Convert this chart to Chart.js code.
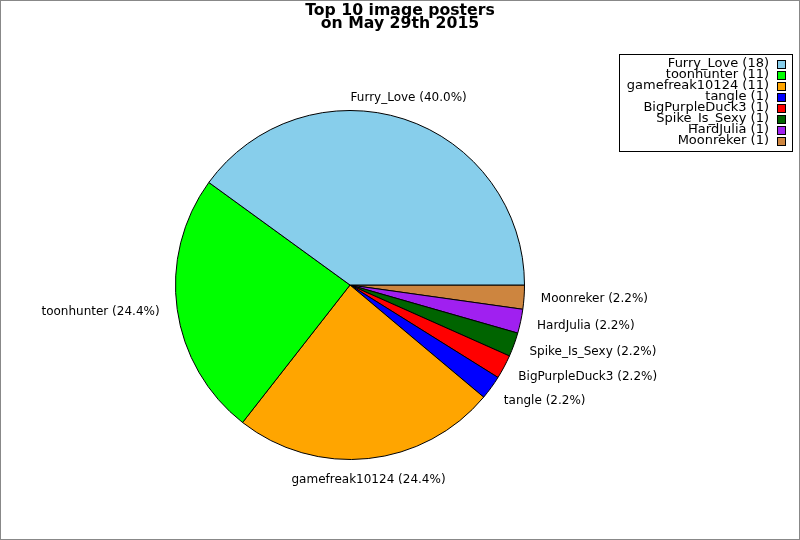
<!DOCTYPE html>
<html><head><meta charset="utf-8">
<script src="https://cdn.jsdelivr.net/npm/chart.js@4.4.0/dist/chart.umd.min.js"></script>
<style>
html,body{margin:0;padding:0;background:#fff;}
#wrap{position:relative;width:800px;height:540px;box-sizing:border-box;border:1px solid #888;}
canvas{display:block;}
</style></head>
<body><div id="wrap"><canvas id="c" width="798" height="538"></canvas></div>
<script>
const titleLines = ["Top 10 image posters", "on May 29th 2015"];
const names = ["Furry_Love","toonhunter","gamefreak10124","tangle","BigPurpleDuck3","Spike_Is_Sexy","HardJulia","Moonreker"];
const counts = [18,11,11,1,1,1,1,1];
const colors = ["#87CEEB","#00FF00","#FFA500","#0000FF","#FF0000","#006400","#A020F0","#CD853F"];

const total = counts.reduce((a,b)=>a+b,0);
const pct = counts.map(v => (100*v/total).toFixed(1) + "%");
// pie drawn clockwise in Chart.js; reverse to mimic counter-clockwise order from 3 o'clock
const rNames = names.slice().reverse();
const rCounts = counts.slice().reverse();
const rColors = colors.slice().reverse();
const rPct = pct.slice().reverse();

const FONT = "'DejaVu Sans', sans-serif";

const overlay = {
  id: 'overlay',
  afterDraw(chart) {
    const ctx = chart.ctx;
    ctx.save();
    // title
    ctx.fillStyle = '#000';
    ctx.font = "bold 15.7px " + FONT;
    ctx.textAlign = 'center';
    ctx.textBaseline = 'middle';
    ctx.fillText(titleLines[0], 399, 10);
    ctx.fillText(titleLines[1], 399, 23);
    // slice labels
    const meta = chart.getDatasetMeta(0);
    ctx.font = "12px " + FONT;
    meta.data.forEach((arc, i) => {
      const p = arc.getProps(['x','y','startAngle','endAngle','outerRadius'], true);
      const mid = (p.startAngle + p.endAngle) / 2;
      const c = Math.cos(mid), s = Math.sin(mid);
      const d = p.outerRadius * 1.125;
      let x = p.x + c * d, y = p.y + s * d;
      let align;
      if (Math.abs(c) < 0.35) { align = 'center'; x -= 2; }
      else if (c > 0) { align = 'left'; x -= 5; }
      else { align = 'right'; x += 4; }
      ctx.textAlign = align;
      ctx.textBaseline = 'middle';
      ctx.fillText(rNames[i] + " (" + rPct[i] + ")", x, y);
    });
    // legend
    const lx = 618, ly = 53, lw = 173, lh = 97;
    ctx.fillStyle = '#fff';
    ctx.fillRect(lx, ly, lw, lh);
    ctx.strokeStyle = '#000';
    ctx.lineWidth = 1;
    ctx.strokeRect(lx + 0.5, ly + 0.5, lw, lh);
    ctx.font = "13px " + FONT;
    ctx.textAlign = 'right';
    ctx.textBaseline = 'middle';
    names.forEach((n, i) => {
      const yy = ly + 10 + i * 11;
      ctx.fillStyle = '#000';
      ctx.fillText(n + " (" + counts[i] + ")", 768, yy);
      ctx.fillStyle = colors[i];
      ctx.fillRect(776, yy - 4, 9, 9);
      ctx.strokeStyle = '#000';
      ctx.strokeRect(776.5, yy - 3.5, 8, 8);
    });
    ctx.restore();
  }
};

new Chart(document.getElementById('c'), {
  type: 'pie',
  data: {
    labels: rNames,
    datasets: [{
      data: rCounts,
      backgroundColor: rColors,
      borderColor: '#000',
      borderWidth: 1
    }]
  },
  options: {
    responsive: false,
    animation: false,
    devicePixelRatio: 1,
    rotation: 90,
    layout: { padding: { left: 174, right: 274, top: 109, bottom: 79 } },
    plugins: { legend: { display: false }, title: { display: false }, tooltip: { enabled: false } }
  },
  plugins: [overlay]
});
</script></body></html>
